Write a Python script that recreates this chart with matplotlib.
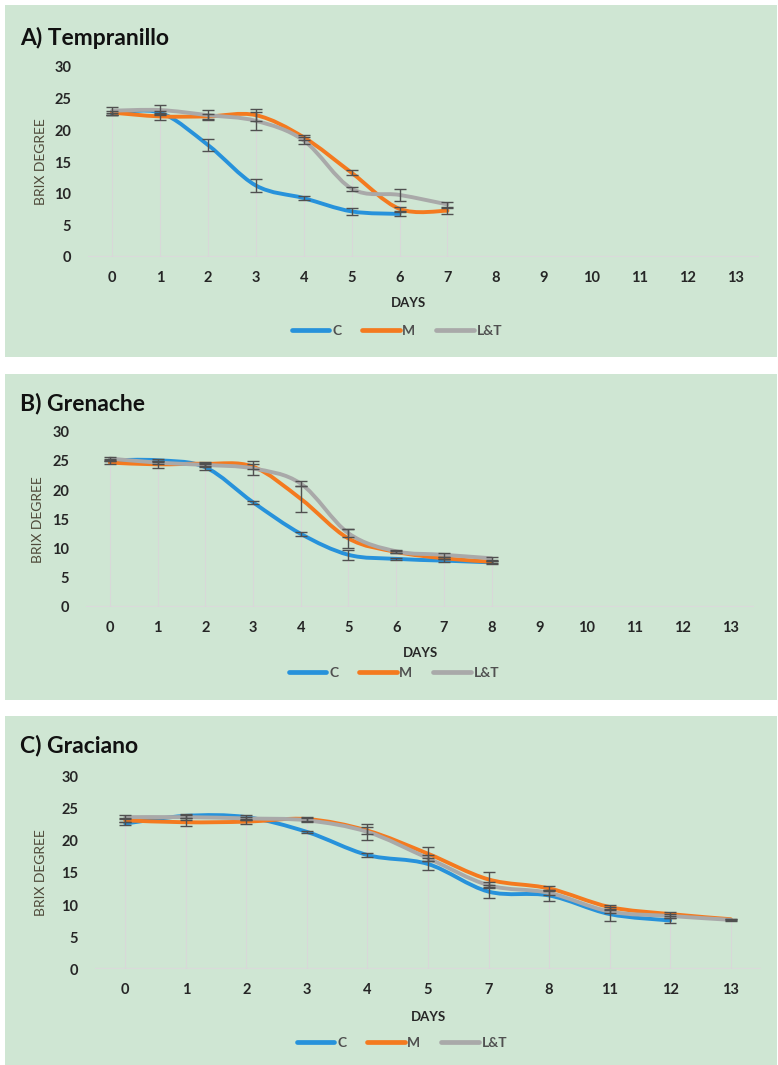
import numpy as np
import matplotlib
matplotlib.use('Agg')
import matplotlib.pyplot as plt
from matplotlib.path import Path
from matplotlib.patches import PathPatch, Rectangle
from matplotlib.lines import Line2D
from matplotlib.font_manager import FontProperties

plt.rcParams['font.family'] = ['Lato', 'DejaVu Sans']

W, H = 778, 1065

# A) Tempranillo
days_a = ['0', '1', '2', '3', '4', '5', '6', '7', '8', '9', '10', '11', '12', '13']
a_c = [22.6, 22.8, 17.7, 11.3, 9.3, 7.2, 6.8]
a_c_err = [0.2, 0.2, 0.9, 1.0, 0.3, 0.6, 0.3]
a_m = [22.8, 22.2, 22.2, 22.4, 18.9, 13.3, 7.6, 7.3]
a_m_err = [0.3, 0.6, 0.4, 1.0, 0.4, 0.4, 0.3, 0.5]
a_lt = [23.1, 23.2, 22.4, 21.5, 18.4, 10.8, 9.8, 8.3]
a_lt_err = [0.6, 0.8, 0.8, 1.4, 0.6, 0.3, 1.0, 0.4]

# B) Grenache
days_b = ['0', '1', '2', '3', '4', '5', '6', '7', '8', '9', '10', '11', '12', '13']
b_c = [25.1, 25.1, 23.9, 17.9, 12.5, 8.9, 8.2, 7.9, 7.6]
b_c_err = [0.2, 0.3, 0.5, 0.3, 0.3, 0.9, 0.2, 0.2, 0.2]
b_m = [24.7, 24.4, 24.5, 24.0, 18.5, 11.7, 9.4, 8.3, 7.7]
b_m_err = [0.2, 0.6, 0.3, 0.4, 2.2, 1.7, 0.2, 0.2, 0.2]
b_lt = [25.4, 24.7, 24.3, 23.7, 21.1, 12.6, 9.5, 8.9, 8.3]
b_lt_err = [0.2, 0.3, 0.3, 1.2, 0.4, 0.7, 0.3, 0.3, 0.3]

# C) Graciano
days_c = ['0', '1', '2', '3', '4', '5', '7', '8', '11', '12', '13']
c_c = [22.7, 23.9, 23.7, 21.4, 17.8, 16.4, 12.1, 11.5, 8.6, 7.6]
c_c_err = [0.3, 0.3, 0.3, 0.2, 0.3, 0.9, 1.0, 0.8, 1.1, 0.4]
c_m = [23.2, 22.9, 23.0, 23.4, 21.6, 18.0, 14.0, 12.6, 9.7, 8.6, 7.8]
c_m_err = [0.3, 0.6, 0.3, 0.3, 0.5, 1.1, 1.2, 0.4, 0.3, 0.3, 0.1]
c_lt = [23.7, 23.7, 23.5, 23.2, 21.4, 17.3, 13.1, 11.9, 9.0, 8.3, 7.7]
c_lt_err = [0.3, 0.4, 0.3, 0.3, 1.2, 0.5, 0.5, 0.4, 0.3, 0.3, 0.1]

series_names = ['C', 'M', 'L&T']
colors = ['#2792DB', '#F47A1F', '#A9A9A9']
BG = '#CFE6D3'
TXT = '#262626'
GREY = '#505050'

panels = [
    {'title': 'A) Tempranillo', 'days': days_a,
     'data': [(a_c, a_c_err), (a_m, a_m_err), (a_lt, a_lt_err)],
     'box': (5, 5, 777, 357), 'ax': (88, 759, 67, 257), 'title_xy': (20, 38),
     'ylab_x': 41, 'days_xy': (408, 303), 'leg_xy': (397, 331)},
    {'title': 'B) Grenache', 'days': days_b,
     'data': [(b_c, b_c_err), (b_m, b_m_err), (b_lt, b_lt_err)],
     'box': (5, 374, 777, 700), 'ax': (86, 754, 431.7, 606.7), 'title_xy': (20, 404),
     'ylab_x': 38, 'days_xy': (421, 653), 'leg_xy': (394, 673)},
    {'title': 'C) Graciano', 'days': days_c,
     'data': [(c_c, c_c_err), (c_m, c_m_err), (c_lt, c_lt_err)],
     'box': (5, 716, 777, 1065), 'ax': (95, 761, 776.7, 969.3), 'title_xy': (20, 746),
     'ylab_x': 41, 'days_xy': (429, 1017), 'leg_xy': (402, 1043)},
]


def fx(x):
    return x / W


def fy(y):
    return 1 - y / H


def smooth_path(xs, ys):
    # Excel-like smoothed line: cubic Bezier through the points
    pts = np.column_stack([xs, ys]).astype(float)
    n = len(pts)
    verts = [pts[0]]
    codes = [Path.MOVETO]
    for i in range(n - 1):
        p0 = pts[i - 1] if i > 0 else pts[i]
        p1 = pts[i]
        p2 = pts[i + 1]
        p3 = pts[i + 2] if i + 2 < n else pts[i + 1]
        verts += [p1 + (p2 - p0) / 6, p2 - (p3 - p1) / 6, p2]
        codes += [Path.CURVE4] * 3
    return Path(verts, codes)


fig = plt.figure(figsize=(W / 100, H / 100), dpi=100)
fig.patch.set_facecolor('white')

leg_font = FontProperties(family=['Lato', 'DejaVu Sans'], weight='bold', size=10)

for p in panels:
    x0, y0, x1, y1 = p['box']
    fig.patches.append(Rectangle((fx(x0), fy(y1)), fx(x1 - x0), (y1 - y0) / H,
                                 transform=fig.transFigure, facecolor=BG,
                                 edgecolor='none', zorder=-5))

    l, r, t, b = p['ax']
    ax = fig.add_axes([fx(l), fy(b), fx(r - l), (b - t) / H])
    ax.patch.set_alpha(0)
    n_cat = len(p['days'])
    ax.set_xlim(-0.5, n_cat - 0.5)
    ax.set_ylim(0, 30)
    for s in ax.spines.values():
        s.set_visible(False)
    ax.axhline(0, color='#DADADA', lw=1.6, zorder=1)

    # drop lines up to the highest series at each day
    longest = max(len(v) for v, _ in p['data'])
    tops = [max(v[i] for v, _ in p['data'] if i < len(v)) for i in range(longest)]
    ax.vlines(range(longest), 0, tops, color='#D8D8D8', lw=0.8, zorder=1)

    for (vals, errs), col in zip(p['data'], colors):
        xs = np.arange(len(vals))
        ax.add_patch(PathPatch(smooth_path(xs, vals), facecolor='none',
                               edgecolor=col, lw=2.8, capstyle='round',
                               joinstyle='round', zorder=3))
        ax.errorbar(xs, vals, yerr=errs, fmt='none', ecolor=GREY,
                    elinewidth=1.0, capsize=4.5, capthick=1.0, zorder=4)

    ax.set_xticks(range(n_cat))
    ax.set_xticklabels(p['days'])
    ax.set_yticks(range(0, 31, 5))
    ax.tick_params(length=0, labelsize=10.5, labelcolor=TXT)
    ax.tick_params(axis='x', pad=10)
    ax.tick_params(axis='y', pad=12)
    for lbl in ax.get_xticklabels() + ax.get_yticklabels():
        lbl.set_fontweight('bold')

    fig.text(fx(p['title_xy'][0]), fy(p['title_xy'][1]), p['title'],
             fontsize=16.5, fontweight='bold', color='#111111', ha='left', va='center')
    fig.text(fx(p['ylab_x']), fy((t + b) / 2), 'BRIX DEGREE', rotation=90,
             fontsize=10, color='#4F4A3A', ha='center', va='center')
    fig.text(fx(p['days_xy'][0]), fy(p['days_xy'][1]), 'DAYS', fontsize=9.5,
             fontweight='bold', color=TXT, ha='center', va='center')

    handles = [Line2D([], [], color=c, lw=3.4, solid_capstyle='round') for c in colors]
    leg = fig.legend(handles, series_names, loc='center', ncol=3, frameon=False,
                     bbox_to_anchor=(fx(p['leg_xy'][0]), fy(p['leg_xy'][1])),
                     bbox_transform=fig.transFigure, handlelength=2.7,
                     handletextpad=0.2, columnspacing=1.5, prop=leg_font)
    for txt in leg.get_texts():
        txt.set_color(GREY)

fig.savefig('out.png', dpi=100, facecolor='white')
